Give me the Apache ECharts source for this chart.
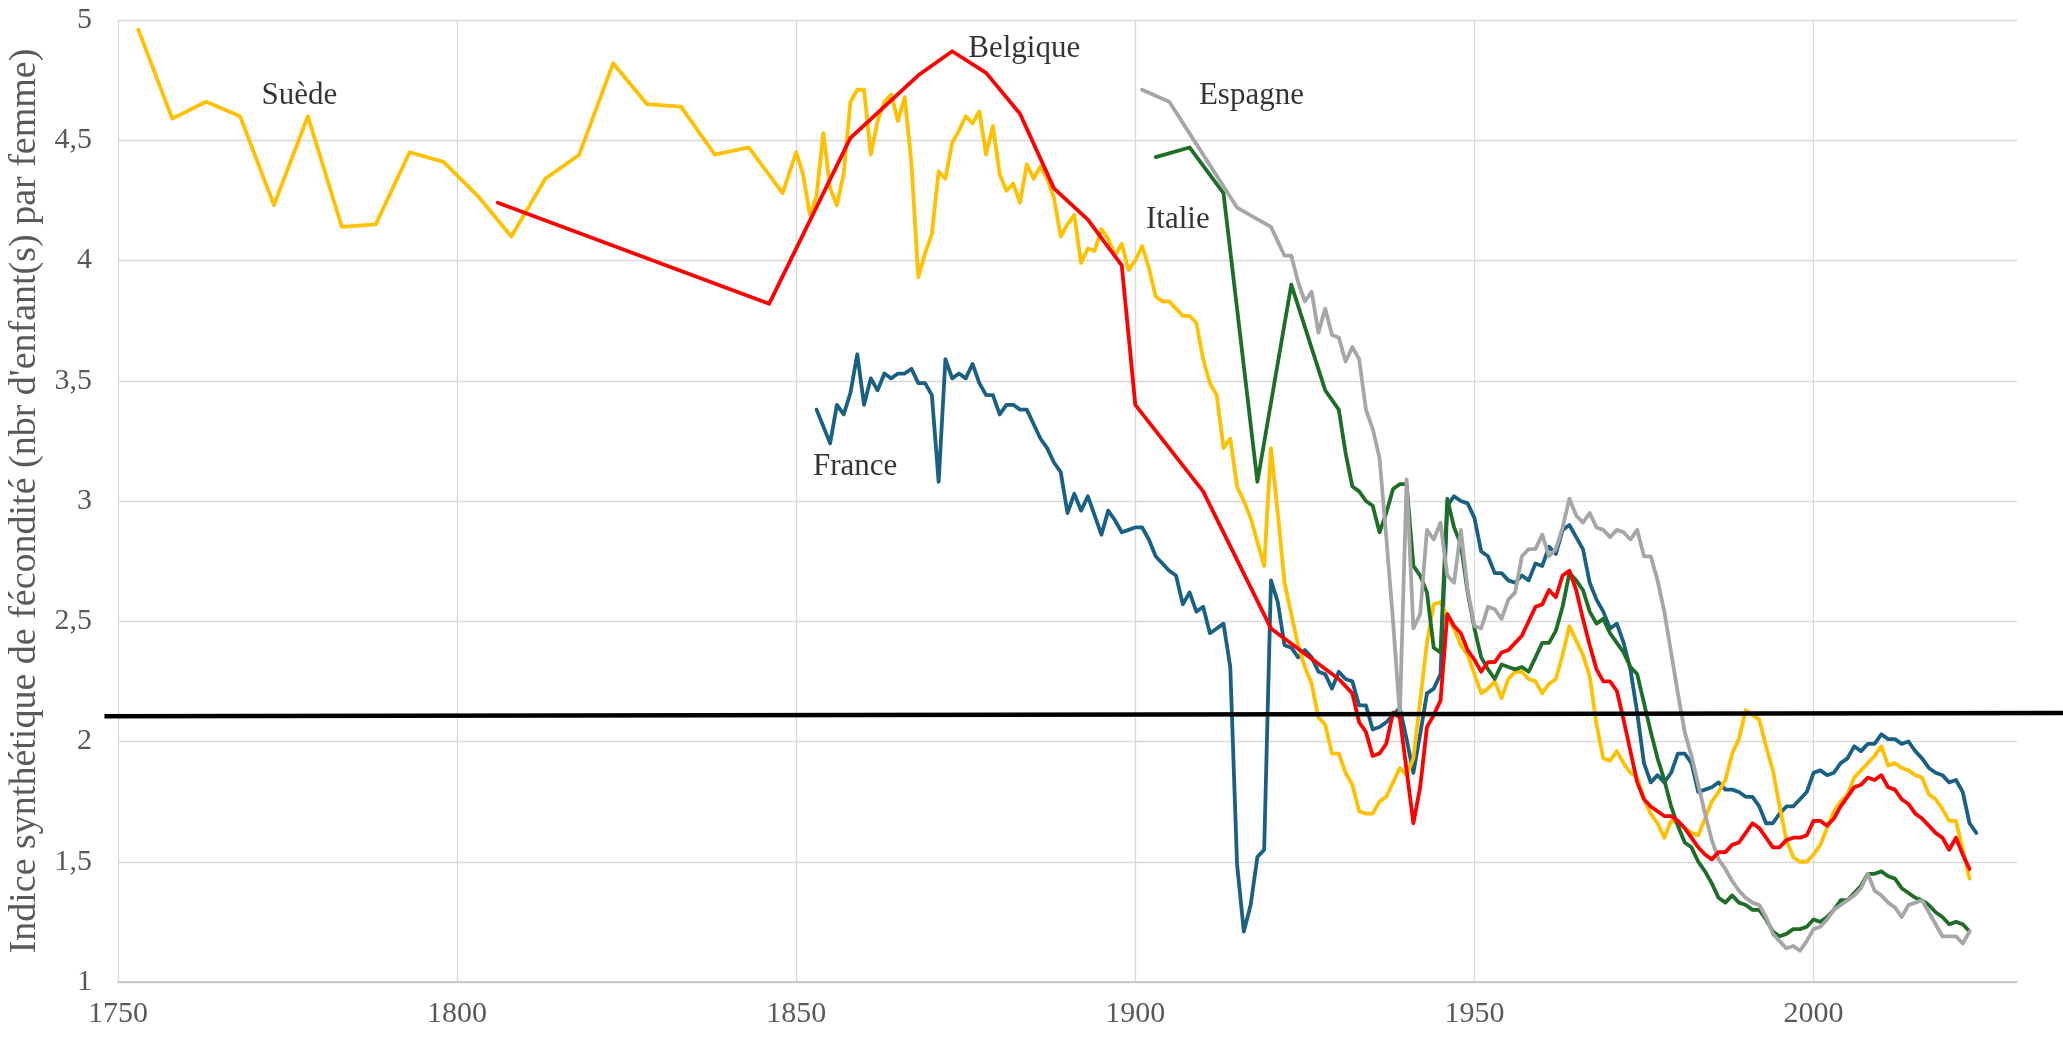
<!DOCTYPE html>
<html><head><meta charset="utf-8">
<script src="https://cdn.jsdelivr.net/npm/echarts@6/dist/echarts.min.js"></script>
<style>html,body{margin:0;padding:0;background:#fff}#c{width:2063px;height:1037px}</style>
</head><body><div id="c"></div>
<script>
// ---- Data (year, fertility index) ----
const suede = [[1753,4.96],[1758,4.59],[1763,4.66],[1768,4.60],[1773,4.23],[1778,4.60],[1783,4.14],[1788,4.15],[1793,4.45],[1798,4.41],[1803,4.27],[1808,4.10],[1813,4.34],[1818,4.44],[1823,4.82],[1828,4.65],[1833,4.64],[1838,4.44],[1843,4.47],[1848,4.28],
[1850,4.45],[1851,4.36],[1852,4.19],[1853,4.27],[1854,4.53],[1855,4.30],[1856,4.23],[1857,4.36],[1858,4.66],[1859,4.71],[1860,4.71],[1861,4.44],[1862,4.58],[1863,4.66],[1864,4.69],[1865,4.58],[1866,4.68],[1867,4.40],[1868,3.93],[1869,4.03],[1870,4.11],[1871,4.37],[1872,4.34],[1873,4.49],[1874,4.54],[1875,4.60],[1876,4.57],[1877,4.62],[1878,4.44],[1879,4.56],[1880,4.36],[1881,4.29],[1882,4.32],[1883,4.24],[1884,4.40],[1885,4.34],[1886,4.39],[1887,4.34],[1888,4.26],[1889,4.10],[1890,4.15],[1891,4.19],[1892,3.99],[1893,4.05],[1894,4.04],[1895,4.13],[1896,4.09],[1897,4.02],[1898,4.07],[1899,3.96],[1900,4.00],[1901,4.06],[1902,3.97],[1903,3.85],[1904,3.83],[1905,3.83],[1906,3.80],[1907,3.77],[1908,3.77],[1909,3.74],[1910,3.59],[1911,3.49],[1912,3.44],[1913,3.22],[1914,3.26],[1915,3.06],[1916,3.00],[1917,2.93],[1918,2.83],[1919,2.73],[1920,3.22],[1921,2.95],[1922,2.66],[1923,2.53],[1924,2.40],[1925,2.31],[1926,2.24],[1927,2.10],[1928,2.07],[1929,1.95],[1930,1.95],[1931,1.87],[1932,1.82],[1933,1.71],[1934,1.70],[1935,1.70],[1936,1.75],[1937,1.77],[1938,1.83],[1939,1.89],[1940,1.86],[1941,1.93],[1942,2.17],[1943,2.41],[1944,2.57],[1945,2.58],[1946,2.52],[1947,2.47],[1948,2.40],[1949,2.36],[1950,2.28],[1951,2.20],[1952,2.22],[1953,2.25],[1954,2.18],[1955,2.26],[1956,2.29],[1957,2.29],[1958,2.26],[1959,2.25],[1960,2.20],[1961,2.24],[1962,2.26],[1963,2.36],[1964,2.48],[1965,2.42],[1966,2.36],[1967,2.27],[1968,2.07],[1969,1.93],[1970,1.92],[1971,1.96],[1972,1.91],[1973,1.87],[1974,1.85],[1975,1.76],[1976,1.70],[1977,1.66],[1978,1.60],[1979,1.67],[1980,1.66],[1981,1.64],[1982,1.62],[1983,1.61],[1984,1.68],[1985,1.75],[1986,1.79],[1987,1.84],[1988,1.95],[1989,2.01],[1990,2.13],[1991,2.11],[1992,2.09],[1993,1.98],[1994,1.88],[1995,1.73],[1996,1.59],[1997,1.52],[1998,1.50],[1999,1.50],[2000,1.53],[2001,1.57],[2002,1.64],[2003,1.71],[2004,1.75],[2005,1.78],[2006,1.85],[2007,1.88],[2008,1.91],[2009,1.94],[2010,1.98],[2011,1.90],[2012,1.91],[2013,1.89],[2014,1.88],[2015,1.86],[2016,1.85],[2017,1.78],[2018,1.76],[2019,1.72],[2020,1.67],[2021,1.67],[2022,1.55],[2023,1.43]];

const belgique = [[1806,4.24],[1846,3.82],[1858,4.51],[1868,4.77],[1873,4.87],[1878,4.78],[1883,4.61],[1888,4.30],[1893,4.17],[1898,3.98],[1900,3.40],[1910,3.04],[1920,2.47],[1930,2.26],[1932,2.20],[1933,2.08],[1934,2.04],[1935,1.94],[1936,1.95],[1937,1.99],[1938,2.12],[1939,2.10],[1940,1.88],[1941,1.66],[1942,1.81],[1943,2.06],[1944,2.11],[1945,2.17],[1946,2.53],[1947,2.48],[1948,2.45],[1949,2.38],[1950,2.34],[1951,2.29],[1952,2.33],[1953,2.33],[1954,2.37],[1955,2.38],[1956,2.41],[1957,2.44],[1958,2.50],[1959,2.56],[1960,2.57],[1961,2.63],[1962,2.60],[1963,2.69],[1964,2.71],[1965,2.63],[1966,2.51],[1967,2.40],[1968,2.30],[1969,2.25],[1970,2.25],[1971,2.21],[1972,2.09],[1973,1.96],[1974,1.83],[1975,1.76],[1976,1.73],[1977,1.71],[1978,1.69],[1979,1.69],[1980,1.67],[1981,1.64],[1982,1.60],[1983,1.56],[1984,1.53],[1985,1.51],[1986,1.54],[1987,1.54],[1988,1.57],[1989,1.58],[1990,1.62],[1991,1.66],[1992,1.64],[1993,1.60],[1994,1.56],[1995,1.56],[1996,1.59],[1997,1.60],[1998,1.60],[1999,1.61],[2000,1.67],[2001,1.67],[2002,1.65],[2003,1.68],[2004,1.73],[2005,1.77],[2006,1.81],[2007,1.82],[2008,1.85],[2009,1.84],[2010,1.86],[2011,1.81],[2012,1.80],[2013,1.76],[2014,1.74],[2015,1.70],[2016,1.68],[2017,1.65],[2018,1.62],[2019,1.60],[2020,1.55],[2021,1.60],[2022,1.53],[2023,1.47]];

const france = [[1853,3.38],[1855,3.24],[1856,3.40],[1857,3.36],[1858,3.45],[1859,3.61],[1860,3.40],[1861,3.51],[1862,3.46],[1863,3.53],[1864,3.51],[1865,3.53],[1866,3.53],[1867,3.55],[1868,3.49],[1869,3.49],[1870,3.44],[1871,3.08],[1872,3.59],[1873,3.51],[1874,3.53],[1875,3.51],[1876,3.57],[1877,3.49],[1878,3.44],[1879,3.44],[1880,3.36],[1881,3.40],[1882,3.40],[1883,3.38],[1884,3.38],[1885,3.32],[1886,3.26],[1887,3.22],[1888,3.16],[1889,3.12],[1890,2.95],[1891,3.03],[1892,2.96],[1893,3.02],[1894,2.94],[1895,2.86],[1896,2.96],[1897,2.92],[1898,2.87],[1899,2.88],[1900,2.89],[1901,2.89],[1902,2.84],[1903,2.77],[1904,2.74],[1905,2.71],[1906,2.69],[1907,2.57],[1908,2.62],[1909,2.54],[1910,2.56],[1911,2.45],[1912,2.47],[1913,2.49],[1914,2.31],[1915,1.49],[1916,1.21],[1917,1.32],[1918,1.52],[1919,1.55],[1920,2.67],[1921,2.58],[1922,2.40],[1923,2.39],[1924,2.35],[1925,2.38],[1926,2.35],[1927,2.29],[1928,2.28],[1929,2.22],[1930,2.29],[1931,2.26],[1932,2.25],[1933,2.15],[1934,2.15],[1935,2.05],[1936,2.06],[1937,2.08],[1938,2.11],[1939,2.14],[1940,2.01],[1941,1.87],[1942,2.03],[1943,2.20],[1944,2.22],[1945,2.28],[1946,2.98],[1947,3.02],[1948,3.00],[1949,2.99],[1950,2.93],[1951,2.79],[1952,2.77],[1953,2.70],[1954,2.70],[1955,2.67],[1956,2.66],[1957,2.69],[1958,2.67],[1959,2.74],[1960,2.73],[1961,2.81],[1962,2.78],[1963,2.88],[1964,2.90],[1965,2.85],[1966,2.80],[1967,2.66],[1968,2.59],[1969,2.54],[1970,2.47],[1971,2.49],[1972,2.41],[1973,2.30],[1974,2.12],[1975,1.91],[1976,1.83],[1977,1.86],[1978,1.83],[1979,1.87],[1980,1.95],[1981,1.95],[1982,1.91],[1983,1.79],[1984,1.80],[1985,1.81],[1986,1.83],[1987,1.80],[1988,1.80],[1989,1.79],[1990,1.77],[1991,1.77],[1992,1.73],[1993,1.66],[1994,1.66],[1995,1.70],[1996,1.73],[1997,1.73],[1998,1.76],[1999,1.79],[2000,1.87],[2001,1.88],[2002,1.86],[2003,1.87],[2004,1.91],[2005,1.93],[2006,1.98],[2007,1.96],[2008,1.99],[2009,1.99],[2010,2.03],[2011,2.01],[2012,2.01],[2013,1.99],[2014,2.00],[2015,1.96],[2016,1.93],[2017,1.89],[2018,1.87],[2019,1.86],[2020,1.83],[2021,1.84],[2022,1.79],[2023,1.66],[2024,1.62]];

const italie = [[1903,4.43],[1908,4.47],[1913,4.28],[1918,3.08],[1923,3.90],[1928,3.46],[1930,3.38],[1931,3.20],[1932,3.06],[1933,3.04],[1934,3.00],[1935,2.98],[1936,2.87],[1937,2.95],[1938,3.05],[1939,3.07],[1940,3.07],[1941,2.73],[1942,2.69],[1943,2.62],[1944,2.39],[1945,2.37],[1946,3.01],[1947,2.89],[1948,2.82],[1949,2.62],[1950,2.47],[1951,2.35],[1952,2.30],[1953,2.26],[1954,2.32],[1955,2.31],[1956,2.30],[1957,2.31],[1958,2.29],[1959,2.35],[1960,2.41],[1961,2.41],[1962,2.46],[1963,2.56],[1964,2.70],[1965,2.67],[1966,2.63],[1967,2.54],[1968,2.49],[1969,2.51],[1970,2.45],[1971,2.41],[1972,2.37],[1973,2.31],[1974,2.28],[1975,2.16],[1976,2.04],[1977,1.93],[1978,1.84],[1979,1.73],[1980,1.65],[1981,1.58],[1982,1.56],[1983,1.50],[1984,1.46],[1985,1.41],[1986,1.35],[1987,1.33],[1988,1.36],[1989,1.33],[1990,1.32],[1991,1.30],[1992,1.30],[1993,1.26],[1994,1.21],[1995,1.19],[1996,1.20],[1997,1.22],[1998,1.22],[1999,1.23],[2000,1.26],[2001,1.25],[2002,1.27],[2003,1.30],[2004,1.34],[2005,1.34],[2006,1.37],[2007,1.40],[2008,1.45],[2009,1.45],[2010,1.46],[2011,1.44],[2012,1.43],[2013,1.39],[2014,1.37],[2015,1.35],[2016,1.34],[2017,1.32],[2018,1.29],[2019,1.27],[2020,1.24],[2021,1.25],[2022,1.24],[2023,1.21]];

const espagne = [[1901,4.71],[1905,4.66],[1915,4.22],[1920,4.14],[1922,4.02],[1923,4.02],[1924,3.91],[1925,3.83],[1926,3.87],[1927,3.70],[1928,3.80],[1929,3.69],[1930,3.68],[1931,3.58],[1932,3.64],[1933,3.59],[1934,3.38],[1935,3.30],[1936,3.18],[1937,2.85],[1938,2.50],[1939,2.11],[1940,3.09],[1941,2.47],[1942,2.53],[1943,2.88],[1944,2.84],[1945,2.91],[1946,2.69],[1947,2.66],[1948,2.88],[1949,2.63],[1950,2.48],[1951,2.47],[1952,2.56],[1953,2.55],[1954,2.51],[1955,2.59],[1956,2.62],[1957,2.77],[1958,2.80],[1959,2.80],[1960,2.86],[1961,2.77],[1962,2.80],[1963,2.89],[1964,3.01],[1965,2.94],[1966,2.91],[1967,2.95],[1968,2.89],[1969,2.88],[1970,2.85],[1971,2.88],[1972,2.87],[1973,2.84],[1974,2.88],[1975,2.77],[1976,2.77],[1977,2.67],[1978,2.54],[1979,2.37],[1980,2.20],[1981,2.04],[1982,1.94],[1983,1.82],[1984,1.70],[1985,1.59],[1986,1.51],[1987,1.47],[1988,1.42],[1989,1.38],[1990,1.35],[1991,1.33],[1992,1.32],[1993,1.27],[1994,1.20],[1995,1.17],[1996,1.14],[1997,1.15],[1998,1.13],[1999,1.17],[2000,1.22],[2001,1.23],[2002,1.26],[2003,1.30],[2004,1.32],[2005,1.34],[2006,1.36],[2007,1.39],[2008,1.45],[2009,1.38],[2010,1.36],[2011,1.33],[2012,1.31],[2013,1.27],[2014,1.32],[2015,1.33],[2016,1.34],[2017,1.29],[2018,1.24],[2019,1.19],[2020,1.19],[2021,1.19],[2022,1.16],[2023,1.21]];

// replacement threshold line (drawn shape, slightly sloped): [year, value]
const seuil = [[1748,2.105],[2037,2.118]];

// country labels: [year, value, text]
const countryLabels = [[1771.1,4.685,'Suède'],[1875.3,4.88,'Belgique'],[1909.3,4.685,'Espagne'],[1901.5,4.17,'Italie'],[1852.4,3.14,'France']];

const xTicks = {min:1750, max:2030, interval:50};
const yTicks = {min:1, max:5, interval:0.5};
const yTitle = "Indice synthétique de fécondité (nbr d'enfant(s) par femme)";

const FONT = "'Liberation Serif','Times New Roman',serif";
const grid = '#d9d9d9';

const chart = echarts.init(document.getElementById('c'), null, {renderer:'canvas'});
function lineSeries(name, data, color){
  return {name, type:'line', data, showSymbol:false, symbol:'none', smooth:false,
    lineStyle:{color, width:3.8, join:'round', cap:'round'}, silent:true, animation:false, z:2};
}
chart.setOption({
  animation:false,
  backgroundColor:'#fff',
  grid:{left:118, right:46, top:20, bottom:55, containLabel:false, outerBoundsMode:'none'},
  xAxis:{type:'value', min:xTicks.min, max:xTicks.max, interval:xTicks.interval,
    axisLine:{show:true, lineStyle:{color:'#bfbfbf', width:1.5}},
    axisTick:{show:false},
    axisLabel:{show:true, showMaxLabel:false, color:'#595959', fontFamily:FONT, fontSize:30, margin:17,
      formatter:v=>String(v)},
    splitLine:{show:true, lineStyle:{color:[grid,grid,grid,grid,grid,grid,'rgba(0,0,0,0)'], width:1.3}}
  },
  yAxis:{type:'value', min:yTicks.min, max:yTicks.max, interval:yTicks.interval,
    name:yTitle, nameLocation:'middle', nameRotate:90, nameGap:71,
    nameTextStyle:{color:'#595959', fontFamily:FONT, fontSize:38},
    axisLine:{show:false}, axisTick:{show:false},
    axisLabel:{color:'#595959', fontFamily:FONT, fontSize:30, margin:26,
      formatter:v=>String(v).replace('.',',')},
    splitLine:{show:true, lineStyle:{color:grid, width:1.3}}
  },
  series:[
    lineSeries('France', france, '#1a6082'),
    lineSeries('Suède', suede, '#ffc000'),
    lineSeries('Italie', italie, '#1e6e28'),
    lineSeries('Espagne', espagne, '#a6a6a6'),
    lineSeries('Belgique', belgique, '#ff0000'),
    {name:'labels', type:'scatter', data:countryLabels, symbolSize:1,
      itemStyle:{color:'rgba(0,0,0,0)'}, silent:true, z:6,
      label:{show:true, position:'right', distance:0, formatter:p=>p.data[2],
        color:'#000', fontFamily:FONT, fontSize:31}}
  ]
});
// threshold line drawn through the chart's own coordinate system (extends past the plot like the original shape)
const p1 = chart.convertToPixel({xAxisIndex:0, yAxisIndex:0}, seuil[0]);
const p2 = chart.convertToPixel({xAxisIndex:0, yAxisIndex:0}, seuil[1]);
chart.setOption({graphic:[{type:'line', z:10, silent:true,
  shape:{x1:p1[0], y1:p1[1], x2:p2[0], y2:p2[1]},
  style:{stroke:'#000', lineWidth:4.5}}]});
</script></body></html>
